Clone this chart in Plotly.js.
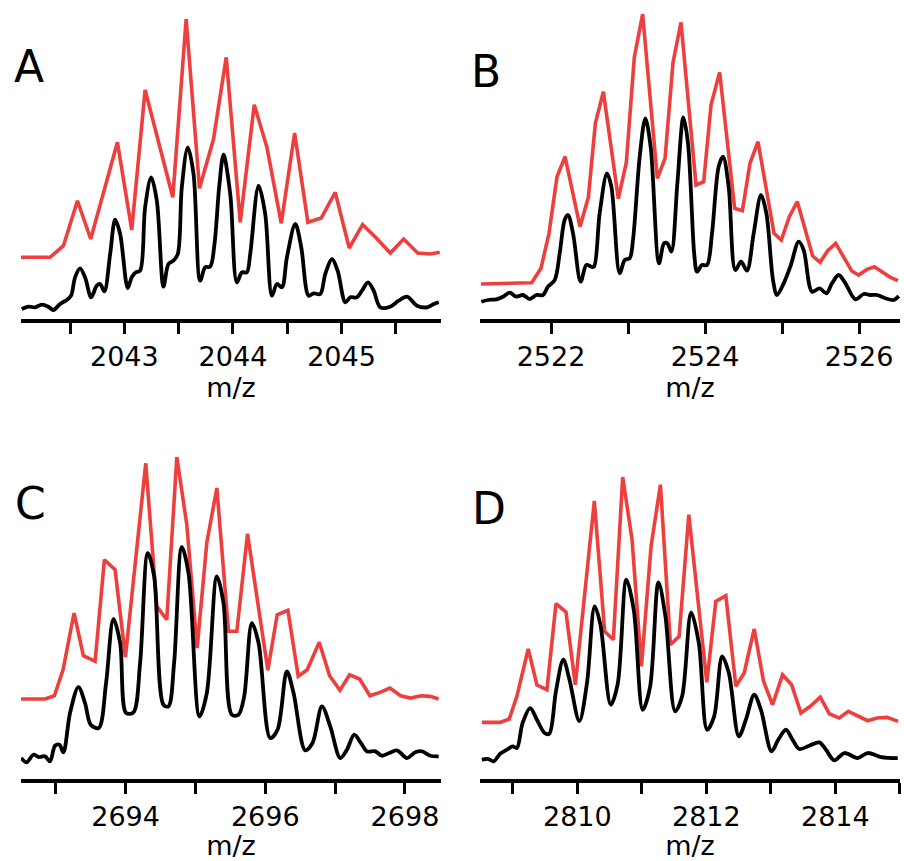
<!DOCTYPE html>
<html>
<head>
<meta charset="utf-8">
<script src="https://cdn.plot.ly/plotly-3.0.1.min.js"></script>
<style>html,body{margin:0;padding:0;background:#fff;}#chart{width:904px;height:861px;}</style>
</head>
<body>
<div id="chart"></div>
<script>
// ---- Panel A (m/z ~2043) ----
const aRedX = [2042.048,2042.316,2042.439,2042.568,2042.690,2042.936,2043.068,2043.191,2043.446,2043.569,2043.692,2043.821,2043.938,2044.067,2044.196,2044.313,2044.445,2044.568,2044.690,2044.813,2044.942,2045.071,2045.194,2045.320,2045.449,2045.572,2045.701,2045.818,2045.904];
const aRedY = [61.7,61.7,73.3,118.3,80,176.7,89,229,121.7,300,130.7,180,261.7,96.7,214.3,171.7,95.7,186,96.7,101,126.7,71,94.3,81,66,80,66,65,66.7];
const aBlackX = [2042.054,2042.116,2042.177,2042.239,2042.300,2042.346,2042.408,2042.469,2042.509,2042.546,2042.592,2042.638,2042.694,2042.746,2042.777,2042.816,2042.869,2042.915,2042.961,2043.031,2043.068,2043.105,2043.145,2043.191,2043.247,2043.299,2043.360,2043.406,2043.452,2043.492,2043.529,2043.584,2043.637,2043.698,2043.744,2043.790,2043.830,2043.873,2043.913,2043.975,2044.036,2044.082,2044.128,2044.159,2044.236,2044.297,2044.359,2044.405,2044.451,2044.497,2044.574,2044.629,2044.697,2044.743,2044.804,2044.850,2044.912,2044.964,2045.035,2045.081,2045.142,2045.188,2045.244,2045.296,2045.357,2045.449,2045.526,2045.603,2045.695,2045.787,2045.849,2045.895];
const aBlackY = [10,12.3,11.7,14.3,12.3,9,15,19,23.3,41.7,50.7,41.7,21.7,33.3,35,27.7,65,99.3,85,31,41.7,46.7,48.3,111.7,141.7,118.3,32.3,55,58.3,65,131.7,171.7,145,38.3,51.7,52.3,75,131.7,164.3,125,36.7,46.7,46.7,65,133.3,105,23.3,35,31.7,61.7,95,71.7,23.3,25.7,25,45,60,48.3,16.7,21.7,21.7,28.3,36.7,28.3,11.7,12.3,18.3,22.3,13.3,11.7,15,16.7];
const aTickVals = [2042.5,2043,2043.5,2044,2044.5,2045,2045.5];
const aTickText = ['','2043','','2044','','2045',''];

// ---- Panel B (m/z ~2524) ----
const bRedX = [2521.091,2521.749,2521.870,2521.974,2522.078,2522.182,2522.377,2522.485,2522.576,2522.680,2522.874,2522.978,2523.082,2523.190,2523.381,2523.481,2523.584,2523.688,2523.883,2523.983,2524.078,2524.190,2524.385,2524.485,2524.584,2524.688,2524.896,2524.991,2525.095,2525.199,2525.398,2525.494,2525.593,2525.697,2525.905,2525.996,2526.104,2526.199,2526.407,2526.506];
const bRedY = [35,36.3,50.7,85.7,142.3,162.3,92.3,121.7,195.7,227.3,120.3,156.3,261.7,305,140.7,160.7,256.3,296.7,134,137.3,214,246.7,110.7,108.3,155.7,177.3,85.7,79,102.3,117.3,63,56.7,68.3,75.7,48,44,49.7,52.3,41.7,38.3];
const bBlackX = [2521.095,2521.182,2521.290,2521.377,2521.463,2521.550,2521.636,2521.723,2521.810,2521.896,2521.961,2522.048,2522.113,2522.177,2522.221,2522.286,2522.385,2522.459,2522.524,2522.558,2522.632,2522.727,2522.784,2522.892,2522.957,2523.022,2523.065,2523.152,2523.225,2523.294,2523.403,2523.468,2523.511,2523.563,2523.641,2523.719,2523.779,2523.861,2523.896,2523.961,2524.026,2524.091,2524.177,2524.234,2524.307,2524.394,2524.468,2524.545,2524.632,2524.727,2524.797,2524.883,2524.935,2525.022,2525.108,2525.216,2525.281,2525.390,2525.489,2525.576,2525.649,2525.736,2525.823,2525.952,2526.061,2526.147,2526.234,2526.342,2526.450,2526.515];
const bBlackY = [17.3,19,19.7,22.3,26.3,22.3,24,20,24,24,32.3,39,65.7,99,104,85.7,37.3,54,52.3,52.3,105.7,145.7,132.3,45.7,59,60.7,79,162.3,200.7,172.3,55.7,75.7,75.7,67.3,135.7,201.7,175.7,64,47.3,54,54,85.7,152.3,162.3,132.3,49,57.3,48.3,85.7,124,105.7,39,24,35.7,52.3,77.3,69,27.3,30.7,25.7,35.7,44,35.7,19.7,25,24,24,20.7,19,23];
const bTickVals = [2522,2523,2524,2525,2526];
const bTickText = ['2522','','2524','','2526'];

// ---- Panel C (m/z ~2695) ----
const cRedX = [2692.503,2692.847,2692.981,2693.105,2693.263,2693.396,2693.564,2693.697,2693.850,2693.998,2694.289,2694.447,2694.590,2694.734,2694.877,2695.025,2695.163,2695.307,2695.474,2695.593,2695.746,2695.894,2696.037,2696.171,2696.324,2696.472,2696.601,2696.773,2696.921,2697.069,2697.207,2697.351,2697.499,2697.642,2697.785,2697.938,2698.077,2698.234,2698.363,2698.482];
const cRedY = [80,80,83.3,109.3,166,123.3,117.7,219.3,209.3,122,315.7,172.7,159.3,322,254.3,131,236.3,291,147.7,147.7,245.3,174,108.7,164.3,168.7,102.7,109.3,136.7,103.3,88.7,104.3,100,83.3,86.7,91,83.3,81,83.3,82.7,80];
const cBlackX = [2692.503,2692.585,2692.680,2692.761,2692.847,2692.919,2692.990,2693.053,2693.110,2693.205,2693.325,2693.420,2693.501,2693.616,2693.721,2693.826,2693.922,2694.008,2694.113,2694.208,2694.318,2694.409,2694.543,2694.614,2694.695,2694.805,2694.901,2695.058,2695.163,2695.307,2695.402,2695.521,2695.617,2695.698,2695.808,2695.904,2696.071,2696.176,2696.309,2696.405,2696.572,2696.677,2696.811,2696.930,2697.074,2697.169,2697.274,2697.370,2697.456,2697.575,2697.670,2697.775,2697.885,2698.029,2698.148,2698.244,2698.363,2698.482];
const cBlackY = [21,16.7,24.3,22,22.7,17.7,33.3,34.3,26.7,66,92,76,54.3,51,96,160,136,66,66.7,116,226,202.7,74.3,72.7,116,232,206,62.7,86,202.7,176,64.3,64.3,82.7,156,136,41,49.3,107.7,86,28.7,36,72.7,52.7,21,29.3,44.3,36,27.7,27.7,23.3,26,28.7,21,26.7,27.7,23.3,22.7];
const cTickVals = [2693,2694,2695,2696,2697,2698];
const cTickText = ['','2694','','2696','','2698'];

// ---- Panel D (m/z ~2811) ----
const dRedX = [2808.519,2808.803,2808.943,2809.062,2809.238,2809.373,2809.528,2809.668,2809.823,2809.968,2810.263,2810.423,2810.558,2810.703,2810.848,2810.993,2811.143,2811.288,2811.443,2811.578,2811.728,2812.007,2812.147,2812.302,2812.458,2812.587,2812.742,2812.887,2813.027,2813.182,2813.322,2813.467,2813.612,2813.767,2813.907,2814.062,2814.202,2814.347,2814.502,2814.647,2814.802,2814.973];
const dRedY = [56.7,56.7,60,82.7,130,94,89.3,175.3,167,94.3,278,147.7,139.3,302,239.3,112.7,232.7,294.3,134.3,142.7,264.3,96.7,177.7,183.3,92.7,106,150,97.7,74.3,104.3,94.3,66,72.7,82,65.3,61,67.7,63.3,58.3,61,61.7,57.7];
const dBlackX = [2808.519,2808.622,2808.700,2808.803,2808.907,2808.995,2809.062,2809.150,2809.269,2809.373,2809.492,2809.564,2809.668,2809.782,2809.875,2810.030,2810.149,2810.268,2810.356,2810.517,2810.625,2810.760,2810.874,2811.013,2811.127,2811.257,2811.365,2811.516,2811.624,2811.764,2811.883,2812.012,2812.121,2812.245,2812.349,2812.504,2812.613,2812.742,2812.846,2813.011,2813.115,2813.234,2813.337,2813.441,2813.596,2813.752,2813.855,2813.984,2814.140,2814.347,2814.502,2814.709,2814.968];
const dBlackY = [19.3,20,17.7,25.3,29.3,32.7,31,56,71,59.3,46,45.3,88,119.3,100,58,96,172.7,155,74.3,95,199.3,169.3,69.3,92,196.7,162.7,67.7,82.7,166.7,136,49.3,62.7,122.7,106,42.7,59.3,84.3,69.3,27.7,39.3,49.3,39.3,30,33.3,36.7,29.3,18.7,26,21,26,22,21];
const dTickVals = [2809,2810,2811,2812,2813,2814,2815];
const dTickText = ['','2810','','2812','','2814',''];

const panelLabels = ['A','B','C','D'];
const axisTitle = 'm/z';

const RED = '#EE3F3F';
const BLACK = '#000000';
const FONT = 'DejaVu Sans, Liberation Sans, Arial, sans-serif';

function redTrace(x, y, n) {
  return {x: x, y: y, type: 'scatter', mode: 'lines', xaxis: 'x' + n, yaxis: 'y' + n,
          line: {color: RED, width: 3.6, shape: 'linear'}, hoverinfo: 'skip', showlegend: false};
}
function blackTrace(x, y, n) {
  return {x: x, y: y, type: 'scatter', mode: 'lines', xaxis: 'x' + n, yaxis: 'y' + n,
          line: {color: BLACK, width: 3.8, shape: 'spline', smoothing: 0.9}, hoverinfo: 'skip', showlegend: false};
}

const data = [
  redTrace(aRedX, aRedY, ''), blackTrace(aBlackX, aBlackY, ''),
  redTrace(bRedX, bRedY, '2'), blackTrace(bBlackX, bBlackY, '2'),
  redTrace(cRedX, cRedY, '3'), blackTrace(cBlackX, cBlackY, '3'),
  redTrace(dRedX, dRedY, '4'), blackTrace(dBlackX, dBlackY, '4')
];

function xAxis(domain, range, tv, tt, anchor) {
  return {
    domain: domain, range: range, anchor: anchor,
    showgrid: false, zeroline: false, showline: true, linecolor: '#000', linewidth: 3.5,
    ticks: 'outside', ticklen: 11, tickwidth: 3, tickcolor: '#000',
    tickmode: 'array', tickvals: tv, ticktext: tt,
    tickfont: {family: FONT, size: 27, color: '#000'},
    title: {text: axisTitle, font: {family: FONT, size: 27, color: '#000'}, standoff: 1},
    automargin: false, fixedrange: true
  };
}
function yAxis(domain, range, anchor) {
  return {domain: domain, range: range, anchor: anchor, visible: false,
          showgrid: false, zeroline: false, showline: false, showticklabels: false, fixedrange: true};
}

const leftDom = [21/904, 441/904];
const rightDom = [480/904, 900/904];
const topDom = [0.6295, 0.9895];
const botDom = [0.0952, 0.4785];

const layout = {
  width: 904, height: 861,
  margin: {l: 0, r: 0, t: 0, b: 0},
  paper_bgcolor: '#fff', plot_bgcolor: '#fff',
  showlegend: false,
  xaxis: xAxis(leftDom, [2042.048, 2045.916], aTickVals, aTickText, 'y'),
  yaxis: yAxis(topDom, [0, 310], 'x'),
  xaxis2: xAxis(rightDom, [2521.078, 2526.532], bTickVals, bTickText, 'y2'),
  yaxis2: yAxis(topDom, [0, 310], 'x2'),
  xaxis3: xAxis(leftDom, [2692.503, 2698.516], cTickVals, cTickText, 'y3'),
  yaxis3: yAxis(botDom, [0, 330], 'x3'),
  xaxis4: xAxis(rightDom, [2808.49, 2815.003], dTickVals, dTickText, 'y4'),
  yaxis4: yAxis(botDom, [0, 330], 'x4'),
  annotations: [
    {text: panelLabels[0], x: 29/904, y: 1 - 66/861},
    {text: panelLabels[1], x: 486/904, y: 1 - 72/861},
    {text: panelLabels[2], x: 30/904, y: 1 - 504/861},
    {text: panelLabels[3], x: 489/904, y: 1 - 508/861}
  ].map(a => Object.assign(a, {xref: 'paper', yref: 'paper', xanchor: 'center', yanchor: 'middle',
        showarrow: false, font: {family: FONT, size: 44, color: '#000'}}))
};

Plotly.newPlot('chart', data, layout, {staticPlot: true, displayModeBar: false});
</script>
</body>
</html>
